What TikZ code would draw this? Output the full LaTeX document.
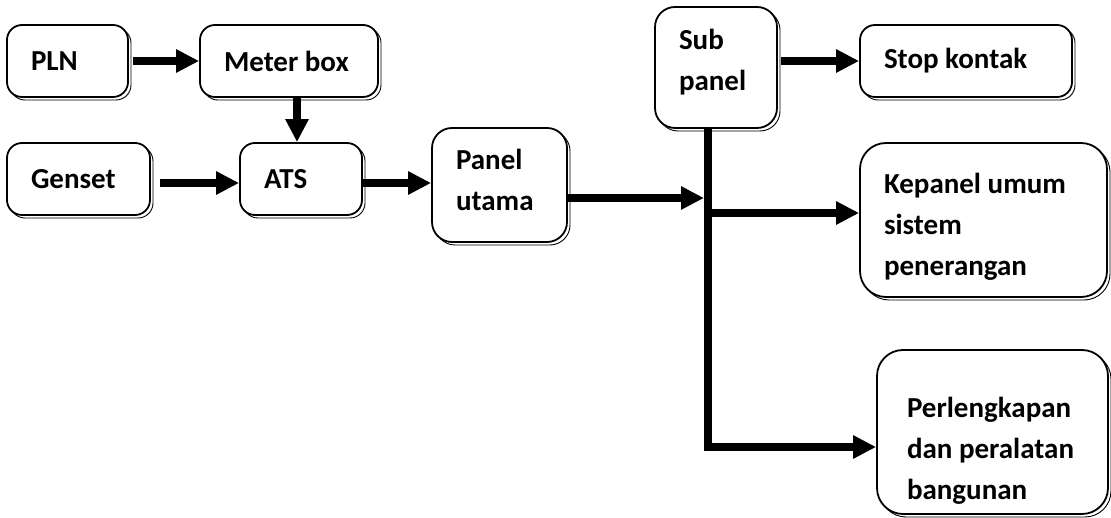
\documentclass[tikz,border=0pt]{standalone}
\usepackage{fontspec}
\setmainfont{Carlito}
\usetikzlibrary{arrows.meta,shadows,calc}
\begin{document}
\begin{tikzpicture}[x=1pt,y=-1pt,
  box/.style={draw, line width=1.8pt, fill=white, rounded corners=#1, align=flush left,
    inner xsep=24pt, inner ysep=0pt,
    font=\fontsize{29}{41}\selectfont\bfseries,
    copy shadow={shadow xshift=3pt, shadow yshift=-3pt, draw, fill=white, line width=0.9pt}},
  box/.default=15pt,
  arr/.style={line width=8pt, -{Triangle[length=23pt,width=22pt]}}]
\useasboundingbox (0,0) rectangle (1111,518);

\node[box, minimum width=121pt, minimum height=72pt, text width=73pt] (pln) at (67.5,61) {PLN};
\node[box, minimum width=178pt, minimum height=72pt, text width=130pt] (meter) at (289,61) {Meter box};
\node[box, minimum width=143pt, minimum height=72pt, text width=95pt] (genset) at (78.5,179) {Genset};
\node[box, minimum width=122pt, minimum height=72pt, text width=74pt] (ats) at (301,179) {ATS};
\node[box=20pt, minimum width=135pt, minimum height=114pt, text width=87pt, text depth=51pt] (panel) at (499.5,185) {Panel\\utama};
\node[box=20pt, minimum width=122pt, minimum height=121pt, text width=74pt, text depth=57pt] (sub) at (716,67.5) {Sub\\panel};
\node[box, minimum width=212pt, minimum height=72pt, text width=164pt] (stop) at (966,61) {Stop kontak};
\node[box=26pt, minimum width=247pt, minimum height=154pt, text width=199pt, text height=33pt] (kep) at (983.5,220) {Kepanel umum\\sistem\\penerangan};
\node[box=26pt, minimum width=231pt, minimum height=164pt, text width=171pt, inner xsep=30pt, text height=58pt] (pel) at (992.5,432) {Perlengkapan\\dan peralatan\\bangunan};

\coordinate (bt) at ([xshift=-8pt]sub.south);
\coordinate (bb) at (708,447);
\coordinate (jk) at (708,213);

\draw[arr] ([xshift=4pt]pln.east) -- (meter.west);
\draw[arr] ([xshift=8pt]meter.south) -- ([xshift=8pt]meter.south |- ats.north);
\draw[arr] ([xshift=9pt,yshift=-4pt]genset.east) -- ([yshift=-4pt]ats.west);
\draw[arr] ([yshift=-4pt]ats.east) -- ([yshift=-4pt]ats.east -| panel.west);
\draw[arr, shorten >=4pt] ([yshift=-13pt]panel.east) -- ([yshift=-13pt]panel.east -| bt);
\draw[arr] ([xshift=3pt]stop.west -| sub.east) -- (stop.west);
\draw[arr, line join=miter] (bt) -- (bb) -- (bb -| pel.west);
\draw[arr] (jk) -- (jk -| kep.west);
\end{tikzpicture}
\end{document}
